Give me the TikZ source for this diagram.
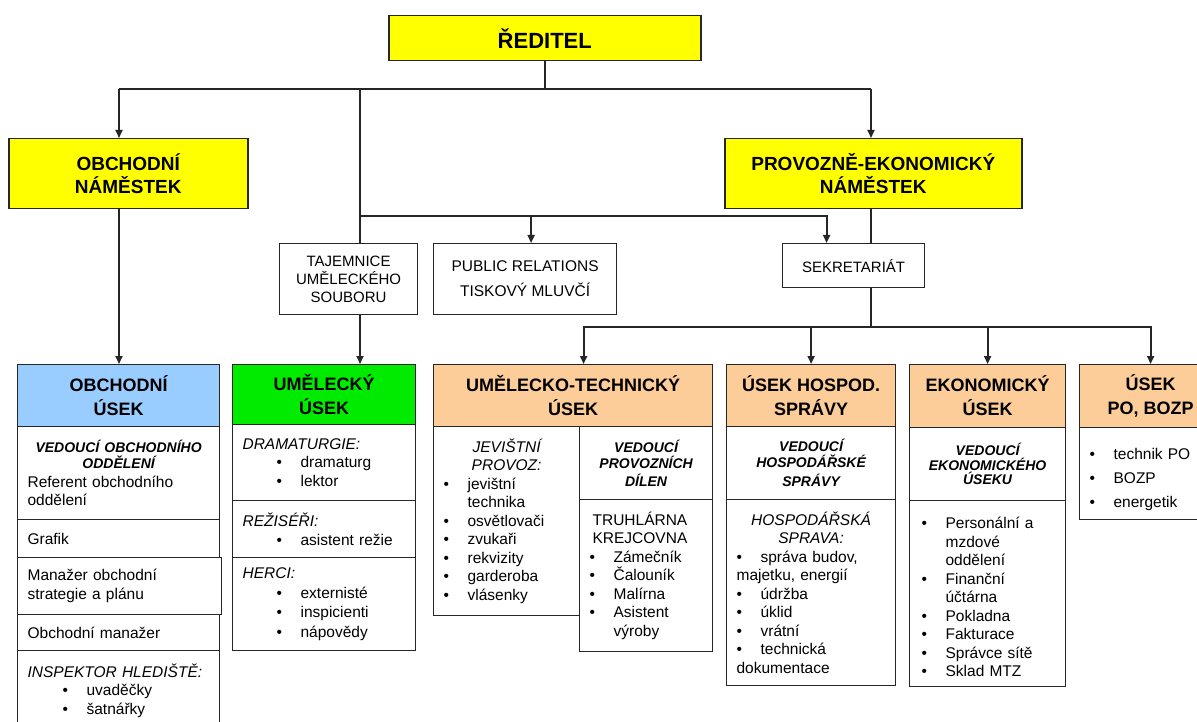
\documentclass[tikz,border=0pt]{standalone}
\usepackage{fontspec}
\setmainfont{Liberation Sans}
\usetikzlibrary{arrows.meta}

\definecolor{bosYellow}{RGB}{255,255,0}
\definecolor{bosBlue}{RGB}{153,204,255}
\definecolor{bosGreen}{RGB}{0,235,0}
\definecolor{bosPeach}{RGB}{252,204,153}

\newcommand{\bul}[2][0pt]{\par{\let\\\newline\hangindent=\dimexpr#1+24pt\relax\hangafter=1\hspace*{#1}\makebox[24pt][l]{\textbullet}#2\par}}
\newcommand{\vedfont}{\fontsize{14}{16}\selectfont\bfseries\itshape}

\tikzset{
	topbox/.style={draw=black!85, line width=1.5pt, fill=bosYellow, anchor=north west, inner sep=2pt, align=center, font=\bfseries\fontsize{19}{23}\selectfont},
	smallbox/.style={draw=black!85, line width=1.2pt, fill=white, anchor=north west, inner sep=2pt, align=center, font=\fontsize{15}{18}\selectfont},
	hdrbox/.style={draw=black!85, line width=1.2pt, anchor=north west, inner sep=2pt, align=center, font=\bfseries\fontsize{18}{24}\selectfont},
	cellbox/.style={draw=black!85, line width=1.2pt, fill=white, anchor=north west, inner xsep=10pt, inner ysep=3pt, align=left, font=\fontsize{15.5}{18.5}\selectfont},
	conn/.style={draw=black!85, line width=1.8pt},
	arr/.style={conn, -{Triangle[length=8pt,width=7pt]}}
}

\begin{document}
\begin{tikzpicture}[x=1pt, y=-1pt]
	\useasboundingbox (0,0) rectangle (1197,722);
	\fill[white] (0,0) rectangle (1197,722);

	% top level
	\node[topbox, minimum width=312pt, minimum height=45pt, font=\bfseries\fontsize{22}{26}\selectfont] (reditel) at (388,15) {ŘEDITEL};
	\node[topbox, minimum width=239pt, minimum height=70pt] (obnam) at (8,138) {OBCHODNÍ\\NÁMĚSTEK};
	\node[topbox, minimum width=297pt, minimum height=70pt] (penam) at (724,138) {PROVOZNĚ-EKONOMICKÝ\\NÁMĚSTEK};
	\node[smallbox, minimum width=138pt, minimum height=71pt] (tajem) at (279,243) {TAJEMNICE\\UMĚLECKÉHO\\SOUBORU};
	\node[smallbox, minimum width=183pt, minimum height=71pt, font=\fontsize{15.5}{25}\selectfont] (pr) at (433,243) {PUBLIC RELATIONS\\TISKOVÝ MLUVČÍ};
	\node[smallbox, minimum width=142pt, minimum height=44pt] (sekr) at (782,243) {SEKRETARIÁT};

	% obchodni usek
	\node[hdrbox, fill=bosBlue, minimum width=202pt, minimum height=62pt] (obu) at (17,364) {OBCHODNÍ\\ÚSEK};
	\node[cellbox, text width=182pt, minimum height=93pt] (obu1) at (17,426) {{\centering\vedfont VEDOUCÍ OBCHODNÍHO\\ODDĚLENÍ\par}Referent obchodního\\oddělení};
	\node[cellbox, text width=182pt, minimum height=38pt] (obu2) at (17,519) {Grafik};
	\node[cellbox, text width=184pt, minimum height=57pt] (obu3) at (17,557) {Manažer obchodní\\strategie a plánu};
	\node[cellbox, text width=182pt, minimum height=36pt] (obu4) at (17,614) {Obchodní manažer};
	\node[cellbox, text width=182pt, minimum height=80pt] (obu5) at (17,650) {\textit{INSPEKTOR HLEDIŠTĚ:}\bul[35pt]{uvaděčky}\bul[35pt]{šatnářky}};

	% umelecky usek
	\node[hdrbox, fill=bosGreen, minimum width=183pt, minimum height=60pt] (umu) at (232,364) {UMĚLECKÝ\\ÚSEK};
	\node[cellbox, text width=163pt, minimum height=76pt] (umu1) at (232,424) {\textit{DRAMATURGIE:}\bul[34pt]{dramaturg}\bul[34pt]{lektor}};
	\node[cellbox, text width=163pt, minimum height=57pt] (umu2) at (232,500) {\textit{REŽISÉŘI:}\bul[34pt]{asistent režie}};
	\node[cellbox, text width=163pt, minimum height=93pt, font=\fontsize{15.5}{19.5}\selectfont] (umu3) at (232,557) {\textit{HERCI:}\bul[34pt]{externisté}\bul[34pt]{inspicienti}\bul[34pt]{nápovědy}};

	% umelecko-technicky usek
	\node[hdrbox, fill=bosPeach, minimum width=279pt, minimum height=62pt] (utu) at (433,364) {UMĚLECKO-TECHNICKÝ\\ÚSEK};
	\node[cellbox, text width=126pt, minimum height=189pt] (utuL) at (433,426) {{\centering\itshape JEVIŠTNÍ\\PROVOZ:\par}\bul{jevištní\\technika}\bul{osvětlovači}\bul{zvukaři}\bul{rekvizity}\bul{garderoba}\bul{vlásenky}};
	\node[cellbox, text width=113pt, minimum height=73pt, align=center] (utuR1) at (579,426) {\vedfont VEDOUCÍ\\PROVOZNÍCH\\DÍLEN};
	\node[cellbox, text width=113pt, minimum height=152pt] (utuR2) at (579,499) {\hspace*{3pt}TRUHLÁRNA\\\hspace*{3pt}KREJCOVNA\bul{Zámečník}\bul{Čalouník}\bul{Malírna}\bul{Asistent\\výroby}};

	% usek hospodarske spravy
	\node[hdrbox, fill=bosPeach, minimum width=169pt, minimum height=62pt] (hsu) at (726,364) {ÚSEK HOSPOD.\\SPRÁVY};
	\node[cellbox, text width=149pt, minimum height=73pt, align=center] (hsu1) at (726,426) {\vedfont VEDOUCÍ\\HOSPODÁŘSKÉ\\SPRÁVY};
	\node[cellbox, text width=149pt, minimum height=186pt] (hsu2) at (726,499) {{\centering\itshape HOSPODÁŘSKÁ\\SPRAVA:\par}\bul{správa budov,}majetku, energií\bul{údržba}\bul{úklid}\bul{vrátní}\bul{technická}dokumentace};

	% ekonomicky usek
	\node[hdrbox, fill=bosPeach, minimum width=156pt, minimum height=63pt] (eku) at (909,364) {EKONOMICKÝ\\ÚSEK};
	\node[cellbox, text width=136pt, minimum height=73pt, align=center, font=\vedfont\fontsize{14}{14.5}\selectfont] (eku1) at (909,427) {VEDOUCÍ\\EKONOMICKÉHO\\ÚSEKU};
	\node[cellbox, text width=136pt, minimum height=186pt] (eku2) at (909,500) {\bul[2pt]{Personální a\\mzdové\\oddělení}\bul[2pt]{Finanční\\účtárna}\bul[2pt]{Pokladna}\bul[2pt]{Fakturace}\bul[2pt]{Správce sítě}\bul[2pt]{Sklad MTZ}};

	% usek PO, BOZP
	\node[hdrbox, fill=bosPeach, minimum width=142pt, minimum height=63pt] (pou) at (1079,364) {ÚSEK\\PO, BOZP};
	\node[cellbox, text width=122pt, minimum height=92pt, font=\fontsize{15.5}{24}\selectfont] (pou1) at (1079,427) {\bul{technik PO}\bul{BOZP}\bul{energetik}};

	% connectors
	\coordinate (hubL) at (119,89);
	\coordinate (hubR) at (871,89);
	\coordinate (hubM) at (360,89);
	\coordinate (hubS) at (360,216);
	\coordinate (hubB) at (871,327);

	\draw[conn] (reditel.south) |- (hubL);
	\draw[conn] (reditel.south) |- (hubR);
	\draw[arr] (hubL) -- (hubL |- obnam.north);
	\draw[arr] (hubR) -- (hubR |- penam.north);
	\draw[conn] (hubM) -- (hubM |- tajem.north);
	\draw[arr] (hubS) -| ([xshift=6pt]pr.north);
	\draw[arr] (hubS) -| ([xshift=-27pt]sekr.north);
	\draw[arr] (hubL |- obnam.south) -- (hubL |- obu.north);
	\draw[arr] (hubM |- tajem.south) -- (hubM |- umu.north);
	\draw[conn] (hubR |- penam.south) -- (hubR |- sekr.north);
	\draw[conn] (hubR |- sekr.south) -- (hubB);
	\draw[arr] (hubB) -| ([xshift=10.5pt]utu.north);
	\draw[arr] (hubB) -| (hsu.north);
	\draw[arr] (hubB) -| (eku.north);
	\draw[arr] (hubB) -| (pou.north);
\end{tikzpicture}
\end{document}
